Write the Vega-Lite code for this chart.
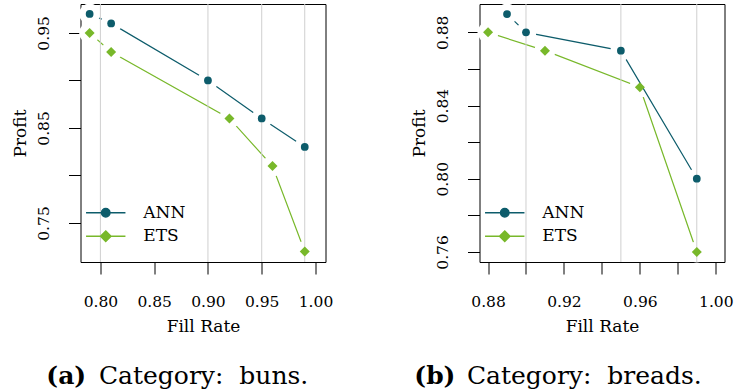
{
  "$schema": "https://vega.github.io/schema/vega-lite/v6.json",
  "background": "white",
  "padding": {"left": 10.5, "top": 3, "right": 0, "bottom": 0},
  "spacing": 76,
  "config": {
    "font": "DejaVu Serif",
    "view": {"stroke": null},
    "axis": {
      "labelFont": "DejaVu Serif", "titleFont": "DejaVu Serif",
      "labelFontSize": 15.5, "titleFontSize": 17, "titleFontWeight": "normal",
      "labelColor": "black", "titleColor": "black", "tickColor": "black", "domainColor": "black",
      "grid": false, "tickSize": 12, "tickWidth": 1, "domainWidth": 1, "zindex": 1,
      "labelFlush": false, "labelOverlap": false
    },
    "legend": {"labelFont": "DejaVu Serif"},
    "title": {"font": "DejaVu Serif", "subtitleFont": "DejaVu Serif", "color": "black", "subtitleColor": "black"}
  },
  "datasets": {
    "buns": [
      {"model": "ANN", "fill": 0.79, "profit": 0.97},
      {"model": "ANN", "fill": 0.81, "profit": 0.96},
      {"model": "ANN", "fill": 0.90, "profit": 0.90},
      {"model": "ANN", "fill": 0.95, "profit": 0.86},
      {"model": "ANN", "fill": 0.99, "profit": 0.83},
      {"model": "ETS", "fill": 0.79, "profit": 0.95},
      {"model": "ETS", "fill": 0.81, "profit": 0.93},
      {"model": "ETS", "fill": 0.92, "profit": 0.86},
      {"model": "ETS", "fill": 0.96, "profit": 0.81},
      {"model": "ETS", "fill": 0.99, "profit": 0.72}
    ],
    "breads": [
      {"model": "ANN", "fill": 0.89, "profit": 0.89},
      {"model": "ANN", "fill": 0.90, "profit": 0.88},
      {"model": "ANN", "fill": 0.95, "profit": 0.87},
      {"model": "ANN", "fill": 0.99, "profit": 0.80},
      {"model": "ETS", "fill": 0.88, "profit": 0.88},
      {"model": "ETS", "fill": 0.91, "profit": 0.87},
      {"model": "ETS", "fill": 0.96, "profit": 0.85},
      {"model": "ETS", "fill": 0.99, "profit": 0.76}
    ],
    "bunsGrid": [{"fill": 0.80}, {"fill": 0.90}, {"fill": 0.95}, {"fill": 0.99}],
    "breadsGrid": [{"fill": 0.90}, {"fill": 0.95}, {"fill": 0.99}]
  },
  "resolve": {"scale": {"x": "independent", "y": "independent", "color": "independent"}, "legend": {"color": "independent"}},
  "hconcat": [
    {
      "width": 245, "height": 258,
      "title": {"text": "(a)", "subtitle": "\u200b\u00a0\u00a0\u00a0\u00a0\u00a0\u00a0\u2009Category:\u00a0 buns.", "orient": "bottom", "anchor": "start", "frame": "group", "dx": -34.2, "fontSize": 25, "fontWeight": "bold", "subtitleFontSize": 25, "subtitleFontWeight": "normal", "subtitlePadding": -25, "offset": 30},
      "resolve": {"axis": {"x": "independent", "y": "independent"}},
      "layer": [
        {
          "data": {"name": "buns"}, "transform": [{"filter": "datum.model === 'ETS'"}],
          "mark": {"type": "line", "strokeWidth": 1.2},
          "encoding": {
            "x": {"field": "fill", "type": "quantitative", "scale": {"domain": [0.7815, 1.0093], "nice": false, "zero": false}, "axis": null},
            "y": {"field": "profit", "type": "quantitative", "scale": {"domain": [0.709, 0.9804], "nice": false, "zero": false}, "axis": null},
            "color": {"field": "model", "type": "nominal", "scale": {"domain": ["ANN", "ETS"], "range": ["#0d5c6b", "#78b82a"]},
                      "legend": {"orient": "none", "legendX": 14.25, "legendY": 197.7, "title": null, "padding": 0, "labelFontSize": 17, "labelColor": "black", "symbolSize": 400, "symbolStrokeWidth": 1.5, "labelOffset": 26.5, "rowPadding": 4.5,
                                 "encode": {"symbols": {"update": {
                                   "shape": {"signal": "datum.value === 'ANN' ? 'M-1.97,0L1.97,0M0.42,0A0.42,0.42,0,1,1,-0.42,0A0.42,0.42,0,1,1,0.42,0Z' : 'M-1.97,0L1.97,0M0,-0.52L0.52,0L0,0.52L-0.52,0Z'"},
                                   "fill": {"signal": "datum.value === 'ANN' ? '#0d5c6b' : '#78b82a'"},
                                   "stroke": {"signal": "datum.value === 'ANN' ? '#0d5c6b' : '#78b82a'"},
                                   "strokeWidth": {"value": 1.5}, "opacity": {"value": 1}, "fillOpacity": {"value": 1}, "strokeOpacity": {"value": 1}}}}}}
          }
        },
        {
          "data": {"name": "buns"}, "transform": [{"filter": "datum.model === 'ETS'"}],
          "mark": {"type": "point", "filled": true, "fill": "white", "opacity": 1, "size": 440, "shape": "circle", "strokeWidth": 0},
          "encoding": {
            "x": {"field": "fill", "type": "quantitative", "scale": {"domain": [0.7815, 1.0093], "nice": false, "zero": false}, "axis": null},
            "y": {"field": "profit", "type": "quantitative", "scale": {"domain": [0.709, 0.9804], "nice": false, "zero": false}, "axis": null}
          }
        },
        {
          "data": {"name": "buns"}, "transform": [{"filter": "datum.model === 'ANN'"}],
          "mark": {"type": "line", "strokeWidth": 1.2},
          "encoding": {
            "x": {"field": "fill", "type": "quantitative", "scale": {"domain": [0.7815, 1.0093], "nice": false, "zero": false}, "axis": null},
            "y": {"field": "profit", "type": "quantitative", "scale": {"domain": [0.709, 0.9804], "nice": false, "zero": false}, "axis": null},
            "color": {"field": "model", "type": "nominal", "scale": {"domain": ["ANN", "ETS"], "range": ["#0d5c6b", "#78b82a"]}}
          }
        },
        {
          "data": {"name": "buns"}, "transform": [{"filter": "datum.model === 'ANN'"}],
          "mark": {"type": "point", "filled": true, "fill": "white", "opacity": 1, "size": 440, "shape": "circle", "strokeWidth": 0},
          "encoding": {
            "x": {"field": "fill", "type": "quantitative", "scale": {"domain": [0.7815, 1.0093], "nice": false, "zero": false}, "axis": null},
            "y": {"field": "profit", "type": "quantitative", "scale": {"domain": [0.709, 0.9804], "nice": false, "zero": false}, "axis": null}
          }
        },
        {
          "data": {"name": "bunsGrid"},
          "mark": {"type": "rule", "color": "#cfcfcf", "strokeWidth": 1},
          "encoding": {
            "x": {"field": "fill", "type": "quantitative", "scale": {"domain": [0.7815, 1.0093], "nice": false, "zero": false},
                  "axis": {"orient": "top", "domain": true, "ticks": false, "labels": false, "title": null}}
          }
        },
        {
          "data": {"name": "buns"}, "transform": [{"filter": "datum.model === 'ETS'"}],
          "mark": {"type": "point", "filled": true, "opacity": 1, "size": 100, "shape": "diamond"},
          "encoding": {
            "x": {"field": "fill", "type": "quantitative", "scale": {"domain": [0.7815, 1.0093], "nice": false, "zero": false}, "axis": null},
            "y": {"field": "profit", "type": "quantitative", "scale": {"domain": [0.709, 0.9804], "nice": false, "zero": false},
                  "axis": {"orient": "right", "domain": true, "ticks": false, "labels": false, "title": null}},
            "color": {"field": "model", "type": "nominal", "scale": {"domain": ["ANN", "ETS"], "range": ["#0d5c6b", "#78b82a"]}}
          }
        },
        {
          "data": {"name": "buns"}, "transform": [{"filter": "datum.model === 'ANN'"}],
          "mark": {"type": "point", "filled": true, "opacity": 1, "size": 60, "shape": "circle"},
          "encoding": {
            "x": {"field": "fill", "type": "quantitative", "scale": {"domain": [0.7815, 1.0093], "nice": false, "zero": false},
                  "axis": {"orient": "bottom", "values": [0.8, 0.85, 0.9, 0.95, 1.0], "format": ".2f", "labelPadding": 20, "title": "Fill Rate", "titlePadding": 8.5}},
            "y": {"field": "profit", "type": "quantitative", "scale": {"domain": [0.709, 0.9804], "nice": false, "zero": false},
                  "axis": {"orient": "left", "values": [0.75, 0.8, 0.85, 0.9, 0.95], "labelExpr": "(round(datum.value*100) % 10 == 5) ? format(datum.value, '.2f') : ''", "labelAngle": -90, "labelAlign": "center", "labelBaseline": "bottom", "labelPadding": 17.5, "title": "Profit", "titlePadding": 7}},
            "color": {"field": "model", "type": "nominal", "scale": {"domain": ["ANN", "ETS"], "range": ["#0d5c6b", "#78b82a"]}}
          }
        }
      ]
    },
    {
      "width": 245, "height": 258,
      "title": {"text": "(b)", "subtitle": "\u200b\u00a0\u00a0\u00a0\u00a0\u00a0\u00a0\u2009Category:\u00a0 breads.", "orient": "bottom", "anchor": "start", "frame": "group", "dx": -65.2, "fontSize": 25, "fontWeight": "bold", "subtitleFontSize": 25, "subtitleFontWeight": "normal", "subtitlePadding": -25, "offset": 30},
      "resolve": {"axis": {"x": "independent", "y": "independent"}},
      "layer": [
        {
          "data": {"name": "breads"}, "transform": [{"filter": "datum.model === 'ETS'"}],
          "mark": {"type": "line", "strokeWidth": 1.2},
          "encoding": {
            "x": {"field": "fill", "type": "quantitative", "scale": {"domain": [0.8755, 1.0046], "nice": false, "zero": false}, "axis": null},
            "y": {"field": "profit", "type": "quantitative", "scale": {"domain": [0.7545, 0.8955], "nice": false, "zero": false}, "axis": null},
            "color": {"field": "model", "type": "nominal", "scale": {"domain": ["ANN", "ETS"], "range": ["#0d5c6b", "#78b82a"]},
                      "legend": {"orient": "none", "legendX": 14.25, "legendY": 197.7, "title": null, "padding": 0, "labelFontSize": 17, "labelColor": "black", "symbolSize": 400, "symbolStrokeWidth": 1.5, "labelOffset": 26.5, "rowPadding": 4.5,
                                 "encode": {"symbols": {"update": {
                                   "shape": {"signal": "datum.value === 'ANN' ? 'M-1.97,0L1.97,0M0.42,0A0.42,0.42,0,1,1,-0.42,0A0.42,0.42,0,1,1,0.42,0Z' : 'M-1.97,0L1.97,0M0,-0.52L0.52,0L0,0.52L-0.52,0Z'"},
                                   "fill": {"signal": "datum.value === 'ANN' ? '#0d5c6b' : '#78b82a'"},
                                   "stroke": {"signal": "datum.value === 'ANN' ? '#0d5c6b' : '#78b82a'"},
                                   "strokeWidth": {"value": 1.5}, "opacity": {"value": 1}, "fillOpacity": {"value": 1}, "strokeOpacity": {"value": 1}}}}}}
          }
        },
        {
          "data": {"name": "breads"}, "transform": [{"filter": "datum.model === 'ETS'"}],
          "mark": {"type": "point", "filled": true, "fill": "white", "opacity": 1, "size": 440, "shape": "circle", "strokeWidth": 0},
          "encoding": {
            "x": {"field": "fill", "type": "quantitative", "scale": {"domain": [0.8755, 1.0046], "nice": false, "zero": false}, "axis": null},
            "y": {"field": "profit", "type": "quantitative", "scale": {"domain": [0.7545, 0.8955], "nice": false, "zero": false}, "axis": null}
          }
        },
        {
          "data": {"name": "breads"}, "transform": [{"filter": "datum.model === 'ANN'"}],
          "mark": {"type": "line", "strokeWidth": 1.2},
          "encoding": {
            "x": {"field": "fill", "type": "quantitative", "scale": {"domain": [0.8755, 1.0046], "nice": false, "zero": false}, "axis": null},
            "y": {"field": "profit", "type": "quantitative", "scale": {"domain": [0.7545, 0.8955], "nice": false, "zero": false}, "axis": null},
            "color": {"field": "model", "type": "nominal", "scale": {"domain": ["ANN", "ETS"], "range": ["#0d5c6b", "#78b82a"]}}
          }
        },
        {
          "data": {"name": "breads"}, "transform": [{"filter": "datum.model === 'ANN'"}],
          "mark": {"type": "point", "filled": true, "fill": "white", "opacity": 1, "size": 440, "shape": "circle", "strokeWidth": 0},
          "encoding": {
            "x": {"field": "fill", "type": "quantitative", "scale": {"domain": [0.8755, 1.0046], "nice": false, "zero": false}, "axis": null},
            "y": {"field": "profit", "type": "quantitative", "scale": {"domain": [0.7545, 0.8955], "nice": false, "zero": false}, "axis": null}
          }
        },
        {
          "data": {"name": "breadsGrid"},
          "mark": {"type": "rule", "color": "#cfcfcf", "strokeWidth": 1},
          "encoding": {
            "x": {"field": "fill", "type": "quantitative", "scale": {"domain": [0.8755, 1.0046], "nice": false, "zero": false},
                  "axis": {"orient": "top", "domain": true, "ticks": false, "labels": false, "title": null}}
          }
        },
        {
          "data": {"name": "breads"}, "transform": [{"filter": "datum.model === 'ETS'"}],
          "mark": {"type": "point", "filled": true, "opacity": 1, "size": 100, "shape": "diamond"},
          "encoding": {
            "x": {"field": "fill", "type": "quantitative", "scale": {"domain": [0.8755, 1.0046], "nice": false, "zero": false}, "axis": null},
            "y": {"field": "profit", "type": "quantitative", "scale": {"domain": [0.7545, 0.8955], "nice": false, "zero": false},
                  "axis": {"orient": "right", "domain": true, "ticks": false, "labels": false, "title": null}},
            "color": {"field": "model", "type": "nominal", "scale": {"domain": ["ANN", "ETS"], "range": ["#0d5c6b", "#78b82a"]}}
          }
        },
        {
          "data": {"name": "breads"}, "transform": [{"filter": "datum.model === 'ANN'"}],
          "mark": {"type": "point", "filled": true, "opacity": 1, "size": 60, "shape": "circle"},
          "encoding": {
            "x": {"field": "fill", "type": "quantitative", "scale": {"domain": [0.8755, 1.0046], "nice": false, "zero": false},
                  "axis": {"orient": "bottom", "values": [0.88, 0.9, 0.92, 0.94, 0.96, 0.98, 1.0], "labelExpr": "(round(datum.value*100) % 4 == 0) ? format(datum.value, '.2f') : ''", "labelPadding": 20, "title": "Fill Rate", "titlePadding": 8.5}},
            "y": {"field": "profit", "type": "quantitative", "scale": {"domain": [0.7545, 0.8955], "nice": false, "zero": false},
                  "axis": {"orient": "left", "values": [0.76, 0.78, 0.8, 0.82, 0.84, 0.86, 0.88], "labelExpr": "(round(datum.value*100) % 4 == 0) ? format(datum.value, '.2f') : ''", "labelAngle": -90, "labelAlign": "center", "labelBaseline": "bottom", "labelPadding": 17.5, "title": "Profit", "titlePadding": 7}},
            "color": {"field": "model", "type": "nominal", "scale": {"domain": ["ANN", "ETS"], "range": ["#0d5c6b", "#78b82a"]}}
          }
        }
      ]
    }
  ]
}
